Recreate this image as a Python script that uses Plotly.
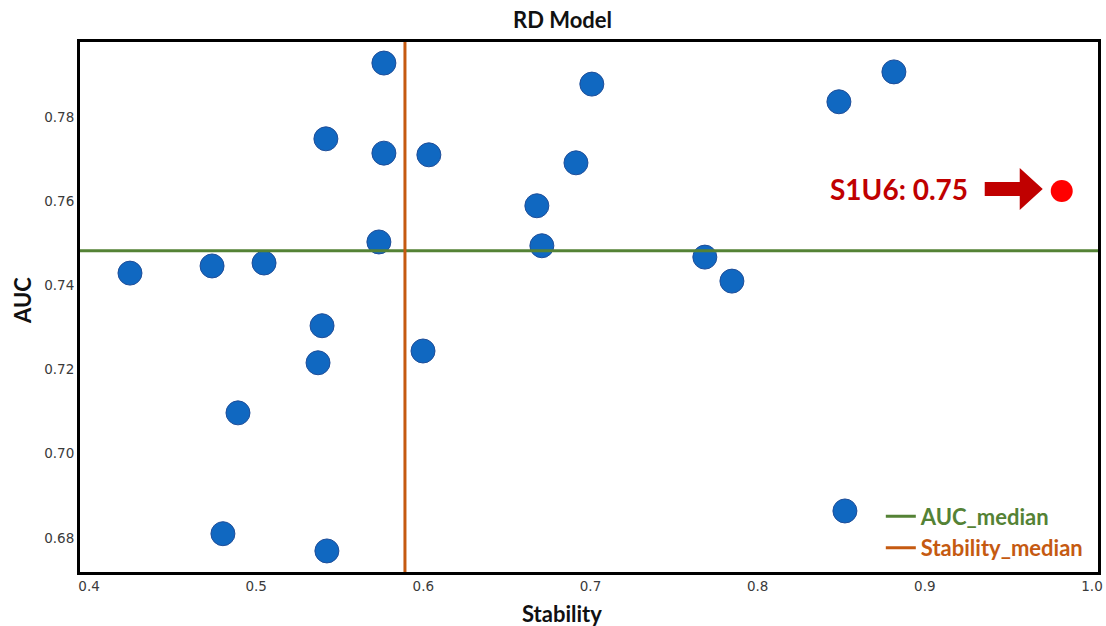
import plotly.graph_objects as go

stability = [0.4245, 0.4736, 0.5047, 0.4891, 0.4801, 0.5423, 0.5394, 0.5370, 0.5417,
             0.5764, 0.5764, 0.5734, 0.6033, 0.5998, 0.6679, 0.6709, 0.7008, 0.6913,
             0.7684, 0.7846, 0.8486, 0.8815, 0.8522]
auc = [0.7429, 0.7446, 0.7453, 0.7097, 0.6810, 0.6769, 0.7304, 0.7216, 0.7748,
       0.7928, 0.7714, 0.7503, 0.7710, 0.7244, 0.7589, 0.7494, 0.7878, 0.7691,
       0.7467, 0.7410, 0.7836, 0.7907, 0.6864]

s1u6_stability = [0.9819]
s1u6_auc = [0.7624]
s1u6_label = "S1U6: 0.75"

auc_median = 0.7482
stability_median = 0.589

x_range = [0.3946, 1.0036]
y_range = [0.6719, 0.7978]
x_ticks = [0.4, 0.5, 0.6, 0.7, 0.8, 0.9, 1.0]
y_ticks = [0.68, 0.70, 0.72, 0.74, 0.76, 0.78]

GREEN = "#548235"
ORANGE = "#C55A11"
DARKRED = "#C00000"
BLUE = "#1068C1"
TFONT = "Lato, Open Sans, sans-serif"

W, H = 1106, 626
ML, MR, MT, MB = 80, 8, 42, 54
PW, PH = W - ML - MR, H - MT - MB


def px_to_paper(px, py):
    return (px - ML) / PW, (H - MB - py) / PH


fig = go.Figure()

fig.add_trace(go.Scatter(
    x=stability, y=auc, mode="markers", showlegend=False,
    marker=dict(size=24, color=BLUE, line=dict(color="#1F4E99", width=1)),
))
fig.add_trace(go.Scatter(
    x=s1u6_stability, y=s1u6_auc, mode="markers", showlegend=False,
    marker=dict(size=22, color="#FF0000", line=dict(width=0)),
))

fig.add_hline(y=auc_median, line=dict(color=GREEN, width=3))
fig.add_vline(x=stability_median, line=dict(color=ORANGE, width=3))

fig.add_trace(go.Scatter(
    x=[None], y=[None], mode="lines", line=dict(color=GREEN, width=3),
    name=f"<span style='color:{GREEN}'><b>AUC_median</b></span>",
))
fig.add_trace(go.Scatter(
    x=[None], y=[None], mode="lines", line=dict(color=ORANGE, width=3),
    name=f"<span style='color:{ORANGE}'><b>Stability_median</b></span>",
))

# block arrow pointing at the S1U6 point (pixel-sized path anchored on the point)
fig.add_shape(
    type="path", xref="x", yref="y", xsizemode="pixel", ysizemode="pixel",
    xanchor=s1u6_stability[0], yanchor=s1u6_auc[0],
    path="M -77 -5 L -42 -5 L -42 -19 L -19 2 L -42 23 L -42 9 L -77 9 Z",
    fillcolor=DARKRED, line=dict(width=0),
)
fig.add_annotation(
    x=s1u6_stability[0], y=s1u6_auc[0], xshift=-92, yshift=2, xanchor="right",
    text=f"<b>{s1u6_label}</b>", showarrow=False,
    font=dict(family=TFONT, size=28, color=DARKRED),
)

# axis titles
sx, sy = px_to_paper(562, 613)
fig.add_annotation(x=sx, y=sy, xref="paper", yref="paper",
                   text="<b>Stability</b>", showarrow=False, xanchor="center", yanchor="middle",
                   font=dict(family=TFONT, size=22, color="#111111"))
ax_, ay_ = px_to_paper(22, 301)
fig.add_annotation(x=ax_, y=ay_, xref="paper", yref="paper",
                   text="<b>AUC</b>", showarrow=False, textangle=-90,
                   xanchor="center", yanchor="middle",
                   font=dict(family=TFONT, size=22, color="#111111"))

fig.update_layout(
    width=W, height=H,
    margin=dict(l=ML, r=MR, t=MT, b=MB, autoexpand=False),
    paper_bgcolor="white", plot_bgcolor="white",
    title=dict(text="<b>RD Model</b>", xref="container", yref="container",
               x=562.5 / W, y=1 - 20 / H, xanchor="center", yanchor="middle",
               font=dict(family=TFONT, size=22, color="#111111")),
    xaxis=dict(range=x_range, tickvals=x_ticks, ticktext=[f"{v:.1f}" for v in x_ticks],
               showgrid=False, zeroline=False, showline=True, mirror=True, automargin=False,
               linecolor="black", linewidth=3, ticks="", ticklen=0,
               tickfont=dict(family="DejaVu Sans", size=13.5, color="#3a3a3a")),
    yaxis=dict(range=y_range, tickvals=y_ticks, ticktext=[f"{v:.2f}" for v in y_ticks],
               showgrid=False, zeroline=False, showline=True, mirror=True, automargin=False,
               linecolor="black", linewidth=3, ticks="", ticklen=0,
               tickfont=dict(family="DejaVu Sans", size=13.5, color="#3a3a3a")),
    legend=dict(x=0.99, y=0.005, xanchor="right", yanchor="bottom",
                bgcolor="rgba(255,255,255,0)", borderwidth=0,
                font=dict(family=TFONT, size=22),
                itemwidth=30, tracegroupgap=0),
)

fig.write_html("out.html", config={"displayModeBar": False},
               post_script="document.body.style.margin='0';document.body.style.overflow='hidden';")
